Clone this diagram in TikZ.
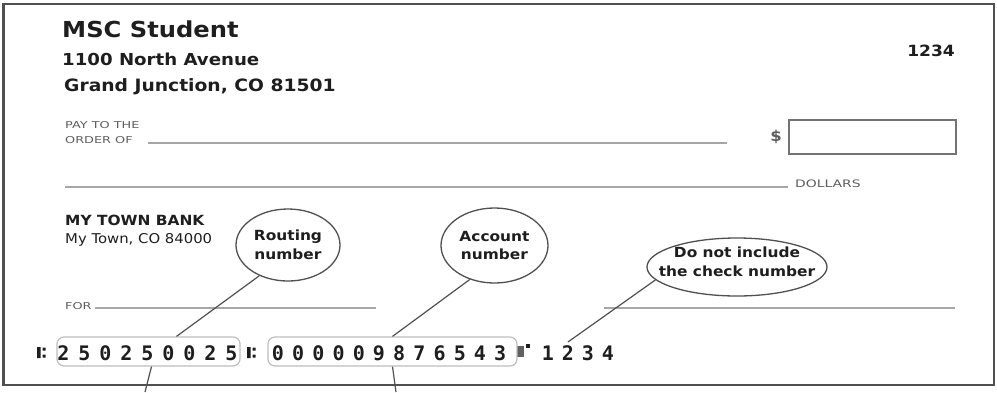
\documentclass[tikz,border=0pt]{standalone}
\usepackage{fontspec}
\newfontfamily\chkfont{DejaVu Sans}[FakeStretch=1.1]
\newfontfamily\formfont{DejaVu Sans}[FakeStretch=1.35]
\newfontfamily\micrfont{DejaVu Sans Mono}
\usetikzlibrary{shapes.geometric,positioning}
\definecolor{ink}{HTML}{1E1E1E}
\definecolor{formgray}{HTML}{5E5E5E}
\definecolor{rulegray}{HTML}{A6A6A6}
\definecolor{edgegray}{HTML}{505050}
\definecolor{boxgray}{HTML}{BDBDBD}
\begin{document}
\begin{tikzpicture}[x=1pt, y=-1pt,
    title/.style = {anchor=base west, inner sep=0, text=ink},
    form/.style = {anchor=base west, inner sep=0, text=formgray, font=\formfont\fontsize{9.5}{10}\selectfont},
    rule/.style = {draw=rulegray, line width=1.8},
    bubble/.style = {draw=edgegray, ellipse, line width=1.3, inner sep=0},
    bubbletxt/.style = {align=center, text=ink, font=\chkfont\bfseries\fontsize{14}{18.5}\selectfont},
    leader/.style = {draw=edgegray, line width=1.2},
    micrbox/.style = {draw=boxgray, rounded corners=7, line width=1.2, minimum height=29, inner sep=0},
    digit/.style = {anchor=base, inner sep=3, text=ink, font=\micrfont\bfseries\fontsize{20}{20}\selectfont}]
    \useasboundingbox (0,0) rectangle (997,392);
    \draw[draw=edgegray, line width=2.5] (3.5,4) rectangle (994,385);

    \node[title, font=\chkfont\bfseries\fontsize{22}{26}\selectfont] (name) at (62,37) {MSC Student};
    \node[title, font=\chkfont\bfseries\fontsize{16.5}{20}\selectfont] (street) at (62,65) {1100 North Avenue};
    \node[title, font=\chkfont\bfseries\fontsize{17}{20}\selectfont] (city) at (64,91) {Grand Junction, CO 81501};
    \node[title, anchor=base east, font=\chkfont\bfseries\fontsize{15.5}{18}\selectfont] (checkno) at (955,56) {1234};

    \node[form] (payto) at (65,128) {PAY TO THE};
    \node[form] (order) at (65,143) {ORDER OF};
    \draw[rule] (148,143) -- (727,143);
    \node[text=formgray, inner sep=0, font=\chkfont\bfseries\fontsize{15}{15}\selectfont] (dollar) at (776,137) {\$};
    \node[draw=edgegray!80, line width=1.3, minimum width=167, minimum height=34, inner sep=0] (amount) at (872.5,137) {};
    \draw[rule] (65,187) -- (788,187);
    \node[form, font=\formfont\fontsize{10.3}{11}\selectfont] (dollars) at (795,187) {DOLLARS};

    \node[title, font=\chkfont\bfseries\fontsize{14}{16}\selectfont] (bank) at (65,225) {MY TOWN BANK};
    \node[title, font=\chkfont\fontsize{13.5}{16}\selectfont] (town) at (65,243) {My Town, CO 84000};

    \node[bubble, minimum width=104, minimum height=72, label={[bubbletxt]center:Routing\\number}] (rout) at (288,245) {};
    \node[bubble, minimum width=107, minimum height=75, label={[bubbletxt]center:Account\\number}] (acct) at (494.5,245.5) {};
    \node[bubble, minimum width=180, minimum height=58, label={[bubbletxt, yshift=5]center:Do not include\\the check number}] (chk) at (737,267) {};

    \node[form] (for) at (65,309) {FOR};
    \draw[rule] (95,308) -- (376,308);
    \draw[rule] (604,308) -- (955,308);

    \foreach \x in {37,247}
        \fill[ink] (\x,347) rectangle ++(3.5,11) ({\x+5.5},347.5) rectangle ++(3,3) ({\x+5.5},354.5) rectangle ++(3,3);
    \fill[ink!70] (517,346) rectangle ++(6.5,11);
    \fill[ink] (525.5,344) rectangle ++(4,4);

    \node[micrbox, minimum width=183] (rbox) at (148.5,351.5) {};
    \foreach \d [count=\i] in {2,5,0,2,5,0,0,2,5}
        \node[digit] (r\i) at ({42.5+21*\i},360) {\d};
    \node[micrbox, minimum width=249] (abox) at (392.5,351.5) {};
    \foreach \d [count=\i] in {0,0,0,0,0,9,8,7,6,5,4,3}
        \node[digit] (a\i) at ({257.8+20.2*\i},360) {\d};
    \foreach \d [count=\i] in {1,2,3,4}
        \node[digit] (c\i) at ({528+20*\i},360) {\d};

    \coordinate (rfoot) at (145,392);
    \coordinate (afoot) at (396,392);
    \draw[leader] (rout.227) -- ([xshift=28]rbox.north);
    \draw[leader] (acct.234) -- (abox.north);
    \draw[leader] (chk.189) -- (c2.north);
    \draw[leader] ([xshift=3]rbox.south) -- (rfoot);
    \draw[leader] (abox.south) -- (afoot);
\end{tikzpicture}
\end{document}
